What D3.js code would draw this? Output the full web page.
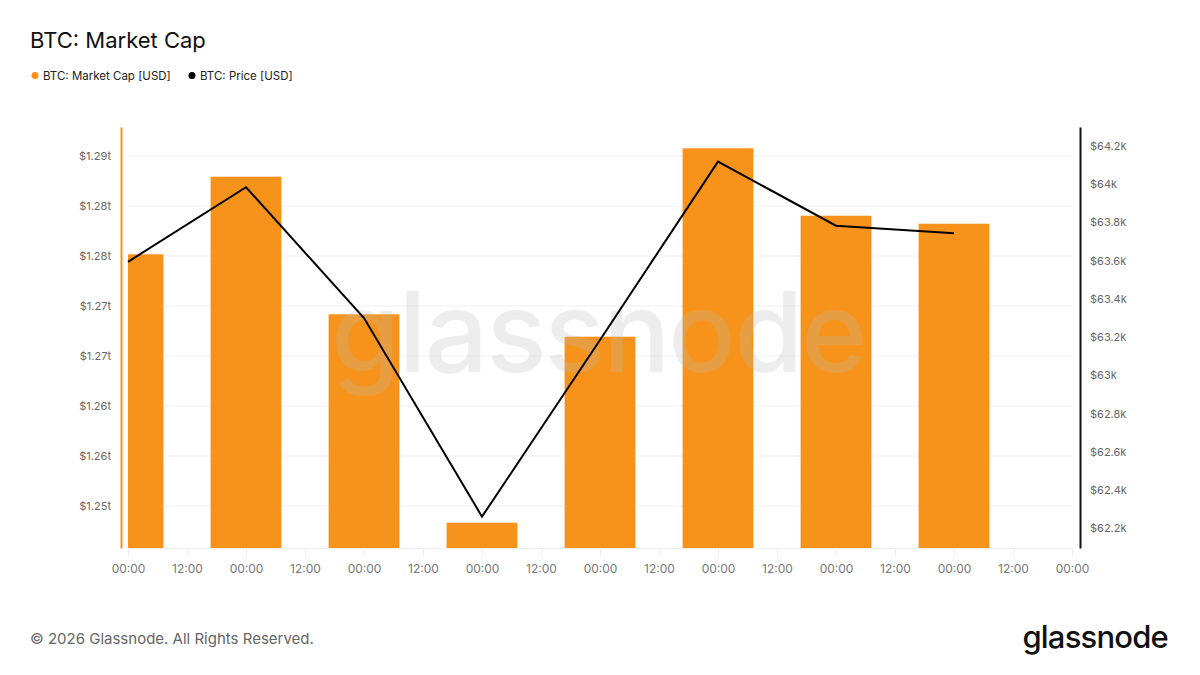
<!DOCTYPE html>
<html>
<head>
<meta charset="utf-8">
<script src="https://cdn.jsdelivr.net/npm/d3@7"></script>
<style>
  html, body { margin: 0; padding: 0; background: #fff; }
  #chart { width: 1200px; height: 675px; }
  text { font-family: Inter, "Noto Sans", sans-serif; }
</style>
</head>
<body>
<div id="chart"></div>
<script>
// 数据
var dates = ["2026-02-10", "2026-02-11", "2026-02-12", "2026-02-13", "2026-02-14", "2026-02-15", "2026-02-16", "2026-02-17"];
var marketCap = [1.28017e12, 1.28793e12, 1.27417e12, 1.25333e12, 1.27193e12, 1.29077e12, 1.28403e12, 1.28323e12];
var price = [63594, 63984, 63300, 62261, 63185, 64118, 63783, 63743];
var xEnd = "2026-02-18";

// 刻度
var capTicks = [1.29e12, 1.285e12, 1.28e12, 1.275e12, 1.27e12, 1.265e12, 1.26e12, 1.255e12];
var capTickLabels = ["$1.29t", "$1.28t", "$1.28t", "$1.27t", "$1.27t", "$1.26t", "$1.26t", "$1.25t"];
var priceTicks = [62200, 62400, 62600, 62800, 63000, 63200, 63400, 63600, 63800, 64000, 64200];
var priceTickLabels = ["$62.2k", "$62.4k", "$62.6k", "$62.8k", "$63k", "$63.2k", "$63.4k", "$63.6k", "$63.8k", "$64k", "$64.2k"];

var capDomain = [1.2508e12, 1.2929e12];
var priceDomain = [62097, 64299];

var orange = "#f7931a";
var margin = {top: 127, right: 128, bottom: 127, left: 128};
var W = 1200, H = 675;
var width = W - margin.left - margin.right;   // 944
var height = H - margin.top - margin.bottom;  // 421

var parse = d3.utcParse("%Y-%m-%d");
var data = dates.map(function(d, i){
	return {date: parse(d), cap: marketCap[i], price: price[i]};
});

var svg = d3.select("#chart").append("svg")
	.attr("width", W)
	.attr("height", H);

// 标题和图例
svg.append("text")
	.attr("x", 30).attr("y", 48)
	.attr("font-size", 22)
	.attr("fill", "#111")
	.text("BTC: Market Cap");

var legend = [{name: "BTC: Market Cap [USD]", color: orange, x: 35}, {name: "BTC: Price [USD]", color: "#000", x: 192}];
legend.forEach(function(l){
	svg.append("circle").attr("cx", l.x).attr("cy", 75.5).attr("r", 3.5).attr("fill", l.color);
	svg.append("text")
		.attr("x", l.x + 8).attr("y", 80)
		.attr("font-size", 11.5)
		.attr("fill", "#222")
		.text(l.name);
});

// 比例尺
var xScale = d3.scaleUtc()
	.domain([parse(dates[0]), parse(xEnd)])
	.range([0, width]);
var yCap = d3.scaleLinear().domain(capDomain).range([height, 0]);
var yPrice = d3.scaleLinear().domain(priceDomain).range([height, 0]);

var plot = svg.append("g").attr("transform", `translate(${margin.left}, ${margin.top})`);

svg.append("defs").append("clipPath").attr("id", "clip")
	.append("rect").attr("x", 0).attr("y", -10).attr("width", width).attr("height", height + 10);

// 网格线
plot.append("g")
	.selectAll("line")
	.data(capTicks)
	.join("line")
	.attr("x1", 0).attr("x2", width)
	.attr("y1", d => yCap(d)).attr("y2", d => yCap(d))
	.attr("stroke", "#f0f0f0")
	.attr("stroke-width", 1);

// x 轴
var xAxis = d3.axisBottom(xScale)
	.ticks(d3.utcHour.every(12))
	.tickFormat(d3.utcFormat("%H:%M"))
	.tickSize(8)
	.tickPadding(8);
var gx = plot.append("g")
	.attr("transform", `translate(0, ${height})`)
	.call(xAxis);
gx.select(".domain").attr("stroke", "#eee");
gx.selectAll(".tick line").attr("stroke", "#eee");
gx.selectAll(".tick text").attr("fill", "#777").attr("font-size", 12).attr("font-family", "Inter, sans-serif");

// 柱状图
var dayW = xScale(parse(dates[1])) - xScale(parse(dates[0]));
var barW = dayW * 0.6;
plot.append("g")
	.attr("clip-path", "url(#clip)")
	.selectAll("rect")
	.data(data)
	.join("rect")
	.attr("x", d => xScale(d.date) - barW / 2)
	.attr("y", d => yCap(d.cap))
	.attr("width", barW)
	.attr("height", d => height - yCap(d.cap))
	.attr("fill", orange);

// 水印
plot.append("text")
	.attr("x", 598 - margin.left)
	.attr("y", 372 - margin.top)
	.attr("text-anchor", "middle")
	.attr("font-size", 112)
	.attr("font-weight", 500)
	.attr("letter-spacing", -2)
	.attr("fill", "#bbb")
	.attr("opacity", 0.25)
	.text("glassnode");

// 价格折线
var line = d3.line()
	.x(d => xScale(d.date))
	.y(d => yPrice(d.price));
plot.append("path")
	.datum(data)
	.attr("d", line)
	.attr("fill", "none")
	.attr("stroke", "#000")
	.attr("stroke-width", 2);

// 左侧 y 轴
var yAxisL = d3.axisLeft(yCap).tickValues(capTicks).tickFormat((d, i) => capTickLabels[i]).tickSize(0).tickPadding(10);
var gl = plot.append("g").attr("transform", "translate(-7, 0)").call(yAxisL);
gl.select(".domain").attr("stroke", orange).attr("stroke-width", 2);
gl.selectAll(".tick text").attr("fill", "#666").attr("font-size", 11).attr("font-family", "Inter, sans-serif");

// 右侧 y 轴
var yAxisR = d3.axisRight(yPrice).tickValues(priceTicks).tickFormat((d, i) => priceTickLabels[i]).tickSize(0).tickPadding(10);
var gr = plot.append("g").attr("transform", `translate(${width + 8}, 0)`).call(yAxisR);
gr.select(".domain").attr("stroke", "#111").attr("stroke-width", 2);
gr.selectAll(".tick text").attr("fill", "#666").attr("font-size", 11).attr("font-family", "Inter, sans-serif");

// 页脚
svg.append("text")
	.attr("x", 30).attr("y", 644)
	.attr("font-size", 15)
	.attr("fill", "#666")
	.text("© 2026 Glassnode. All Rights Reserved.");

svg.append("text")
	.attr("x", 1168).attr("y", 648)
	.attr("text-anchor", "end")
	.attr("font-size", 31)
	.attr("font-weight", 500)
	.attr("letter-spacing", -0.8)
	.attr("fill", "#111")
	.text("glassnode");
</script>
</body>
</html>
